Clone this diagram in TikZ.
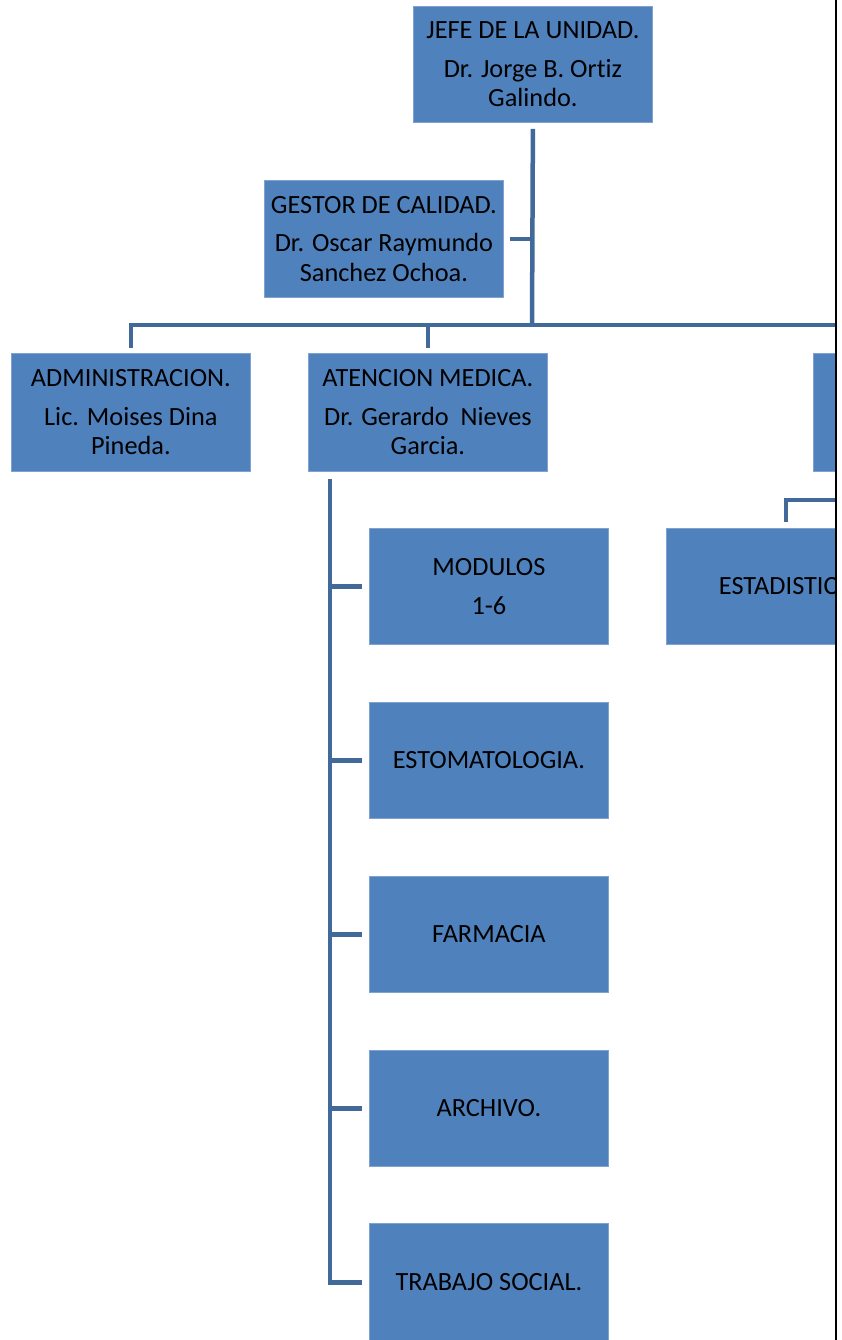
\documentclass[tikz,border=0pt]{standalone}
\usepackage{fontspec}
\setmainfont{Carlito}[Ligatures={NoCommon}]
\definecolor{boxfill}{HTML}{4F81BD}
\definecolor{boxedge}{HTML}{7FA2D0}
\definecolor{connc}{HTML}{41699A}
\tikzset{
  orgbox/.style={rectangle, fill=boxfill, draw=boxedge, line width=0.8pt, inner sep=0pt,
    minimum width=239pt, minimum height=117pt, anchor=north west, align=center,
    font=\fontsize{26.3}{29.5}\selectfont, text=black},
  conn/.style={draw=connc, line width=4.5pt, line cap=butt, line join=miter}
}
\begin{document}
\begin{tikzpicture}[x=1pt,y=-1pt]
\useasboundingbox (0,0) rectangle (841,1340);
\begin{scope}
\clip (0,0) rectangle (835,1340);
% boxes
\node[orgbox, minimum height=116pt] (jefe) at (413,6) {JEFE DE LA UNIDAD.\\[9pt]Dr. Jorge B. Ortiz\\Galindo.};
\node[orgbox] (gestor) at (264,180) {GESTOR DE CALIDAD.\\[9pt]Dr. Oscar Raymundo\\Sanchez Ochoa.};
\node[orgbox, minimum height=118pt] (adm) at (11,353) {ADMINISTRACION.\\[9pt]Lic. Moises Dina\\Pineda.};
\node[orgbox, minimum height=118pt] (aten) at (308,353) {ATENCION MEDICA.\\[9pt]Dr. Gerardo\ \ Nieves\\Garcia.};
\node[orgbox, minimum height=118pt] (third) at (813,353) {};
\node[orgbox, minimum height=116pt] (est) at (666,528) {ESTADISTICA};
\node[orgbox, minimum height=116pt] (mod) at (369,528) {MODULOS\\[9pt]1-6};
\node[orgbox, minimum height=116pt] (esto) at (369,702) {ESTOMATOLOGIA.};
\node[orgbox, minimum height=116pt] (farm) at (369,876) {FARMACIA};
\node[orgbox, minimum height=116pt] (arch) at (369,1050) {ARCHIVO.};
\node[orgbox, minimum height=118pt] (trab) at (369,1223) {TRABAJO SOCIAL.};
% connectors
\coordinate (bus) at (532,325);
\coordinate (busend) at (845,325);
\coordinate (estin) at (845,500);
\draw[conn] ([yshift=-6pt]jefe.south) -- (bus);
\draw[conn] ([xshift=6pt]gestor.east) -- (gestor.east -| bus);
\draw[conn] ([yshift=5pt]adm.north) |- (busend);
\draw[conn] ([yshift=5pt]aten.north) -- (aten.north |- bus);
\draw[conn] (estin) -| ([yshift=6pt]est.north);
\coordinate (spine) at ([xshift=22pt,yshift=-7pt]aten.south west);
\draw[conn] (spine) |- ([xshift=-7pt]trab.west);
\draw[conn] (spine |- mod.west) -- ([xshift=-7pt]mod.west);
\draw[conn] (spine |- esto.west) -- ([xshift=-7pt]esto.west);
\draw[conn] (spine |- farm.west) -- ([xshift=-7pt]farm.west);
\draw[conn] (spine |- arch.west) -- ([xshift=-7pt]arch.west);
\end{scope}
\draw[black, line width=2.2pt] (836,0) -- (836,1340);
\end{tikzpicture}
\end{document}
